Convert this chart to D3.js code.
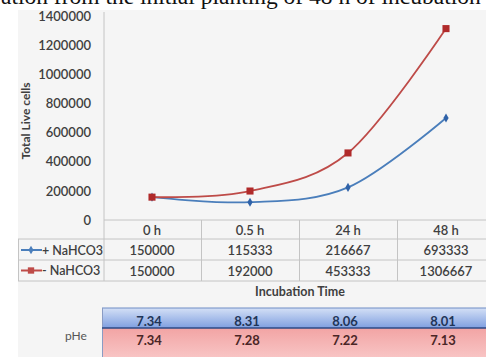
<!DOCTYPE html>
<html>
<head>
<meta charset="utf-8">
<script src="https://cdn.jsdelivr.net/npm/d3@7"></script>
<style>
  html, body { margin: 0; padding: 0; background: #ffffff; }
  svg { display: block; }
  text { font-family: Lato, "Open Sans", sans-serif; }
</style>
</head>
<body>
<script>
// Incubation time points
const categories = ["0 h", "0.5 h", "24 h", "48 h"];
// Total live cells per condition
const seriesNames = ["+ NaHCO3", "- NaHCO3"];
const withBicarb = [150000, 115333, 216667, 693333];
const withoutBicarb = [150000, 192000, 453333, 1306667];
// Extracellular pH per condition
const phWith = ["7.34", "8.31", "8.06", "8.01"];
const phWithout = ["7.34", "7.28", "7.22", "7.13"];
// Value axis ticks
const yTicks = [0, 200000, 400000, 600000, 800000, 1000000, 1200000, 1400000];

const W = 486, H = 357;
const blue = "#4a7ebb", red = "#be4b48";
const grid = "#c4c4c4";
const ink = "#3f3f3f";

const svg = d3.select("body").append("svg").attr("width", W).attr("height", H);

// caption line running above the figure
svg.append("text")
  .attr("x", 1).attr("y", 4)
  .style("font-family", "'Liberation Serif', 'DejaVu Serif', serif")
  .style("font-size", "23.5px").attr("fill", "#111")
  .text("ation from the initial planting of 48 h of incubation");

// chart area
svg.append("rect").attr("x", 18).attr("y", 10).attr("width", W - 18).attr("height", H - 10)
  .attr("fill", "#f5f5f5");

const x = d3.scaleBand().domain(categories).range([103, 495]);
const y = d3.scaleLinear().domain([0, 1400000]).range([219, 15]);

// value axis
const yAxis = svg.append("g").attr("transform", "translate(103,0)")
  .call(d3.axisLeft(y).tickValues(yTicks).tickSize(0).tickPadding(12).tickFormat(d3.format("d")));
yAxis.select(".domain").remove();
yAxis.selectAll("text").attr("fill", ink).style("font-size", "13px").style("font-weight", "600")
  .style("font-family", "Lato, sans-serif").attr("dy", "0.4em");
svg.append("line").attr("x1", 104).attr("x2", 104).attr("y1", 12).attr("y2", 281)
  .attr("stroke", grid);

svg.append("text")
  .attr("transform", "translate(30," + ((y(0) + y(1400000)) / 2 + 4) + ") rotate(-90)")
  .attr("text-anchor", "middle").attr("fill", ink)
  .style("font-size", "12px").style("font-weight", "700")
  .text("Total Live cells");

// data table under the plot
const rowTop = [220, 239, 260, 281];
svg.append("line").attr("x1", 104).attr("x2", W).attr("y1", rowTop[0]).attr("y2", rowTop[0]).attr("stroke", grid);
rowTop.slice(1).forEach(r => {
  svg.append("line").attr("x1", 18).attr("x2", W).attr("y1", r).attr("y2", r).attr("stroke", grid);
});
svg.append("line").attr("x1", 18.5).attr("x2", 18.5).attr("y1", rowTop[1]).attr("y2", rowTop[3]).attr("stroke", grid);
categories.slice(1).forEach(c => {
  const xx = Math.round(x(c)) + 0.5;
  svg.append("line").attr("x1", xx).attr("x2", xx).attr("y1", rowTop[0]).attr("y2", rowTop[3]).attr("stroke", grid);
});

const cell = (txt, cx, cy, opts = {}) => svg.append("text")
  .attr("x", cx).attr("y", cy).attr("text-anchor", opts.anchor || "middle")
  .attr("dominant-baseline", "central")
  .attr("fill", opts.fill || ink)
  .style("font-size", (opts.size || 13) + "px").style("font-weight", opts.weight || "600")
  .text(txt);

categories.forEach(c => cell(c, x(c) + x.bandwidth() / 2, 230));
withBicarb.forEach((v, i) => cell(v, x(categories[i]) + x.bandwidth() / 2, 250));
withoutBicarb.forEach((v, i) => cell(v, x(categories[i]) + x.bandwidth() / 2, 270.5));

// legend keys in the table
const keys = [
  { name: seriesNames[0], color: blue, yy: 250, shape: d3.symbolDiamond, size: 22 },
  { name: seriesNames[1], color: red, yy: 270.5, shape: d3.symbolSquare, size: 40 }
];
keys.forEach(k => {
  svg.append("line").attr("x1", 21).attr("x2", 42).attr("y1", k.yy).attr("y2", k.yy)
    .attr("stroke", k.color).attr("stroke-width", 2);
  svg.append("path").attr("d", d3.symbol(k.shape, k.size)()).attr("transform", `translate(31,${k.yy})`)
    .attr("fill", k.color);
  cell(k.name, 42, k.yy, { anchor: "start", size: 12.5 });
});

svg.append("text").attr("x", 300).attr("y", 291).attr("text-anchor", "middle")
  .attr("dominant-baseline", "central").attr("fill", ink)
  .style("font-size", "12.5px").style("font-weight", "700").text("Incubation Time");

// curves
const line = d3.line()
  .x((d, i) => x(categories[i]) + x.bandwidth() / 2)
  .y(d => y(d))
  .curve(d3.curveCatmullRom.alpha(0));

[[withBicarb, blue], [withoutBicarb, red]].forEach(([vals, col]) => {
  svg.append("path").datum(vals).attr("d", line).attr("fill", "none")
    .attr("stroke", col).attr("stroke-width", 1.8);
});
svg.selectAll(".mk-b").data(withBicarb).join("path").attr("class", "mk-b")
  .attr("d", d3.symbol(d3.symbolDiamond, 24)())
  .attr("transform", (d, i) => `translate(${x(categories[i]) + x.bandwidth() / 2},${y(d)})`)
  .attr("fill", "#2f62a8");
svg.selectAll(".mk-r").data(withoutBicarb).join("path").attr("class", "mk-r")
  .attr("d", d3.symbol(d3.symbolSquare, 50)())
  .attr("transform", (d, i) => `translate(${x(categories[i]) + x.bandwidth() / 2},${y(d)})`)
  .attr("fill", "#b02a2a");

// pHe table
const defs = svg.append("defs");
const gB = defs.append("linearGradient").attr("id", "gb").attr("x1", 0).attr("x2", 0).attr("y1", 0).attr("y2", 1);
gB.append("stop").attr("offset", "0%").attr("stop-color", "#d4e0f6");
gB.append("stop").attr("offset", "100%").attr("stop-color", "#7f9fe0");
const gR = defs.append("linearGradient").attr("id", "gr").attr("x1", 0).attr("x2", 0).attr("y1", 0).attr("y2", 1);
gR.append("stop").attr("offset", "0%").attr("stop-color", "#f2a4a4");
gR.append("stop").attr("offset", "100%").attr("stop-color", "#f8c4c4");

svg.append("rect").attr("x", 102).attr("y", 308).attr("width", W - 102).attr("height", 20).attr("fill", "url(#gb)");
svg.append("rect").attr("x", 102).attr("y", 328).attr("width", W - 102).attr("height", H - 328).attr("fill", "url(#gr)");
svg.append("line").attr("x1", 102).attr("x2", W).attr("y1", 308).attr("y2", 308).attr("stroke", "#6f8cc4");
svg.append("line").attr("x1", 102.5).attr("x2", 102.5).attr("y1", 308).attr("y2", H).attr("stroke", "#8a9cc4");
svg.append("line").attr("x1", 102).attr("x2", W).attr("y1", 328).attr("y2", 328).attr("stroke", "#2c4a86").attr("stroke-width", 1.5);

phWith.forEach((v, i) => cell(v, x(categories[i]) + x.bandwidth() / 2 - 3, 321, { fill: "#1f3558", size: 13, weight: "700" }));
phWithout.forEach((v, i) => cell(v, x(categories[i]) + x.bandwidth() / 2 - 3, 340, { fill: "#4a2626", size: 13, weight: "700" }));
cell("pHe", 76, 335, { size: 12, weight: "400", fill: "#555" });
</script>
</body>
</html>
